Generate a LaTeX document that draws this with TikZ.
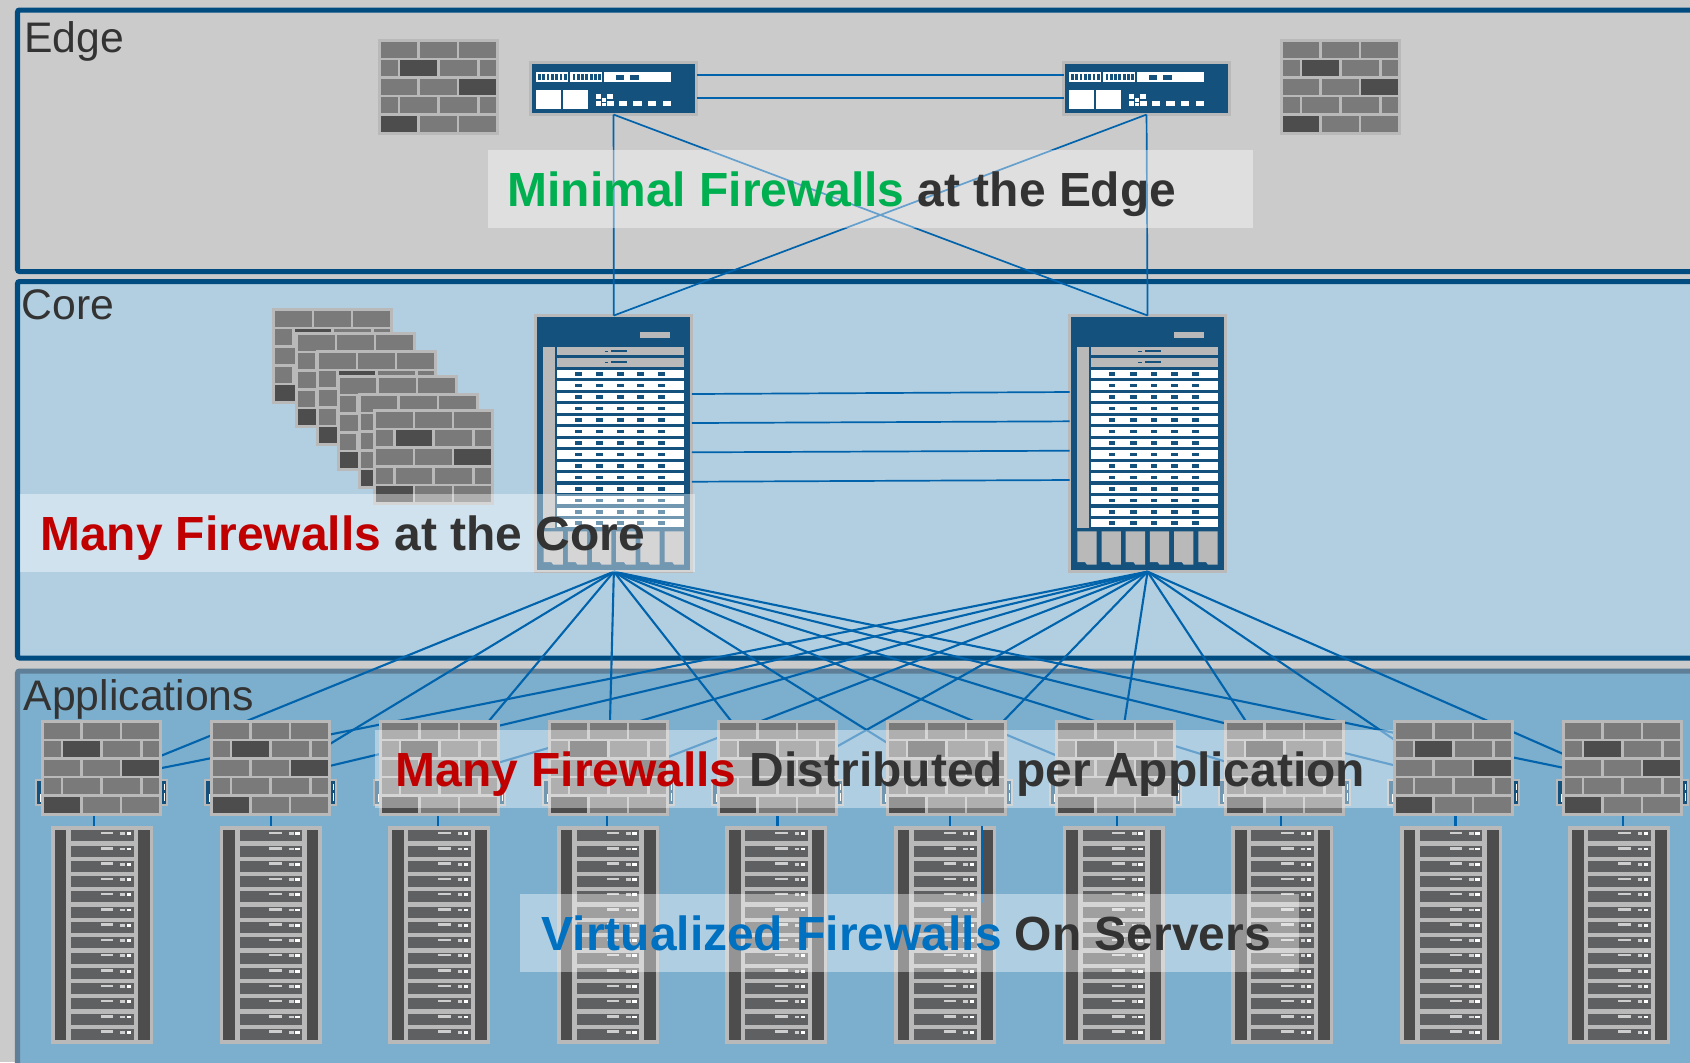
\documentclass[tikz,border=0pt]{standalone}
\usepackage{fontspec}
\setmainfont{Liberation Sans}
\usepackage{xcolor}
\usepackage{tikz}
\usetikzlibrary{positioning}
\definecolor{pagegray}{HTML}{CBCBCB}
\definecolor{coreblue}{HTML}{B2CFE1}
\definecolor{appblue}{HTML}{7CAECD}
\definecolor{bandnavy}{HTML}{004C80}
\definecolor{bandslate}{HTML}{5E7F97}
\definecolor{devnavy}{HTML}{14527D}
\definecolor{framegray}{HTML}{B9B9B9}
\definecolor{brickgray}{HTML}{7A7A7A}
\definecolor{brickdark}{HTML}{4D4D4E}
\definecolor{bladegray}{HTML}{5F6062}
\definecolor{linkblue}{HTML}{0063AC}
\definecolor{txtgray}{HTML}{333333}
\definecolor{mingreen}{HTML}{00B050}
\definecolor{manyred}{HTML}{C00000}
\definecolor{virtblue}{HTML}{0070C0}
\tikzset{
  devbox/.style={inner sep=0pt,outer sep=0pt,anchor=north west},
  firewallbox/.style={devbox,fill=framegray,minimum width=1.21cm,minimum height=0.96cm},
  rackbox/.style={devbox,fill=framegray,minimum width=1.02cm,minimum height=2.18cm},
  routerbox/.style={devbox,fill=devnavy,draw=framegray,line width=0.03cm,minimum width=1.66cm,minimum height=0.52cm},
  chassisbox/.style={devbox,fill=devnavy,draw=framegray,line width=0.03cm,minimum width=1.56cm,minimum height=2.56cm},
  hostbox/.style={inner sep=0pt,outer sep=0pt,fill=devnavy,draw=framegray,line width=0.02cm,minimum width=1.3cm,minimum height=0.25cm},
  link/.style={color=linkblue,line width=0.021cm},
  thinlink/.style={color=linkblue,line width=0.017cm},
  banner/.style={fill=white,fill opacity=0.4},
  title/.style={inner sep=0pt,anchor=base west,font=\fontsize{13.63pt}{16pt}\bfseries,text=txtgray},
  tier/.style={inner sep=0pt,anchor=base west,font=\fontsize{12.15pt}{14pt}\selectfont,text=txtgray},
  firewall/.pic={
    \foreach \t in {2.5,39.7,77}
      \foreach \a/\b in {3/39.3,42/79,81/118}
        \fill[brickgray] (\a,\t) rectangle (\b,\t+16);
    \foreach \t in {21,58.3}
      \foreach \a/\b in {3/19.7,22.3/59,62/99,102/118}
        \fill[brickgray] (\a,\t) rectangle (\b,\t+16);
    \fill[brickdark] (22.3,21) rectangle (59,37);
    \fill[brickdark] (81,39.7) rectangle (118,55.7);
    \fill[brickdark] (3,77) rectangle (39.3,93);
  },
  rack/.pic={
    \fill[brickdark] (3.7,3.7) rectangle (15.3,214);
    \fill[brickdark] (87,3.7) rectangle (98.7,214);
    \foreach \k in {0,...,13}{
      \fill[bladegray] (20,{4.3+15.28*\k}) rectangle (82.5,{15.3+15.28*\k});
      \fill[framegray!70!white] (49.7,{5.7+15.28*\k}) rectangle (62.3,{8.2+15.28*\k});
      \fill[framegray!70!white] (69.3,{6.2+15.28*\k}) rectangle (74,{9+15.28*\k});
      \fill[white] (75.5,{6.2+15.28*\k}) rectangle (80,{9+15.28*\k});
    }
  },
  router/.pic={
    \fill[white] (6.7,11) rectangle (39.3,20.7);
    \fill[white] (41.3,11) rectangle (73.3,20.7);
    \fill[white] (75.3,11) rectangle (142.3,20.7);
    \foreach \k in {0,...,6}{
      \fill[devnavy] ({9+4.3*\k},12.6) rectangle ({11.8+4.3*\k},19);
      \fill[devnavy] ({43.5+4.3*\k},12.6) rectangle ({46.3+4.3*\k},19);
    }
    \fill[devnavy] (86.7,13.7) rectangle (95.3,18.7);
    \fill[devnavy] (101.3,13.7) rectangle (110,18.7);
    \fill[white] (6.7,28.7) rectangle (31.7,48);
    \fill[white] (34,28.7) rectangle (58.7,48);
    \foreach \a/\t/\b/\e in {66.7/33/72/38,78/32.7/84/37.5,66.7/40/72/45,73/37/77/41,73/42/77/45,78/40/84.7/45}
      \fill[white] (\a,\t) rectangle (\b,\e);
    \foreach \a in {89.7,104.3,119,133.7}
      \fill[white] (\a,39.7) rectangle (\a+8.3,44.7);
  },
  chassis/.pic={
    \fill[framegray] (106,18.3) rectangle (136,24.3);
    \fill[framegray] (8.7,32.7) rectangle (20.7,213.7);
    \foreach \k in {0,1}{
      \fill[framegray] (22.7,{33+11.47*\k}) rectangle (149.7,{41.3+11.47*\k});
      \fill[devnavy] (70.3,{36.5+11.47*\k}) rectangle (74,{38+11.47*\k});
      \fill[devnavy] (76.7,{35.7+11.47*\k}) rectangle (92.7,{38+11.47*\k});
    }
    \foreach \k in {2,...,15}{
      \fill[white] (22.7,{33+11.47*\k}) rectangle (149.7,{41.3+11.47*\k});
      \foreach \m in {44,65.3,86,106.3,127.3}
        \fill[devnavy] (\m-3.3,{35.4+11.47*\k}) rectangle (\m+3.3,{38.9+11.47*\k});
    }
    \foreach \k in {0,...,5}
      \fill[framegray] ({9.3+24.2*\k},217.3) -- ({28.6+24.2*\k},217.3) -- ({28.6+24.2*\k},250.7)
        -- ({19+24.2*\k},250.7) -- ({17+24.2*\k},248) -- ({9.3+24.2*\k},248) -- cycle;
  },
  hostmarks/.pic={
    \fill[white] (3.5,14) rectangle (6,22);
    \fill[white] (127.5,4) rectangle (129,10);
    \fill[white] (127.5,13) rectangle (129,21);
  }
}
\begin{document}
\begin{tikzpicture}[x=0.01cm,y=-0.01cm]
\useasboundingbox (0,0) rectangle (1690,1062);
\clip (0,0) rectangle (1690,1062);
%%%%% Tiers %%%%%
\fill[pagegray] (0,0) rectangle (1690,1062);
\draw[draw=bandnavy,line width=0.05cm,rounded corners=0.02cm] (17.5,10) rectangle (1720,271.5);
\draw[draw=bandnavy,fill=coreblue,line width=0.05cm,rounded corners=0.02cm] (17.5,281.5) rectangle (1720,658);
\draw[draw=bandslate,fill=appblue,line width=0.05cm,rounded corners=0.02cm] (17.5,671) rectangle (1720,1090);
%%%%% Edge %%%%%
\node[firewallbox] (edgewallA) at (378,39) {};
\pic at (edgewallA.north west) {firewall};
\node[firewallbox] (edgewallB) at (1280,39) {};
\pic at (edgewallB.north west) {firewall};
\node[routerbox] (edgeA) at (530.5,62.5) {};
\pic at (529,61) {router};
\node[routerbox] (edgeB) at (1063.5,62.5) {};
\pic at (1062,61) {router};
\coordinate (edgeAtop) at (edgeA.east |- 0,75);
\coordinate (edgeAlow) at (edgeA.east |- 0,97.7);
\draw[thinlink] (edgeAtop) -- (edgeAtop -| edgeB.west);
\draw[thinlink] (edgeAlow) -- (edgeAlow -| edgeB.west);
%%%%% Core %%%%%
\foreach \i/\fx/\fy in {1/272.3/308.3,2/295.3/332.3,3/316.3/350.3,4/336.7/375.3,5/357.7/393.3,6/373.3/409.3}{
  \node[firewallbox] (corewall\i) at (\fx,\fy) {};
  \pic at (corewall\i.north west) {firewall};
}
\node[chassisbox] (coreA) at (535.8,315.5) {};
\pic at (534.3,314) {chassis};
\node[chassisbox] (coreB) at (1069.5,315.5) {};
\pic at (1068,314) {chassis};
\draw[thinlink] (edgeA.south) -- (coreA.north);
\draw[thinlink] (edgeA.south) -- (coreB.north);
\draw[thinlink] (edgeB.south) -- (coreA.north);
\draw[thinlink] (edgeB.south) -- (coreB.north);
\foreach \la/\lb in {394/392,423/421.3,452.3/450.7,481.7/480}
  \draw[thinlink] (coreA.east |- 0,\la) -- (coreB.west |- 0,\lb);
%%%%% Applications %%%%%
\foreach \i [evaluate=\i as \hx using 101.5+169*\i] in {0,...,9}{
  \node[hostbox] (host\i) at (\hx,792.5) {};
  \pic at (host\i.north west) {hostmarks};
  \draw[link] (coreA.south) -- (host\i.north);
  \draw[link] (coreB.south) -- (host\i.north);
}
\foreach \i/\sx [evaluate=\i as \fx using 41+169*\i, evaluate=\i as \rx using 51+168.6*\i] in {0/94.3,1/270.7,2/437.8,3/607,4/777.5,5/950,6/1116.6,7/1281,8/1455.5,9/1622.8}{
  \node[firewallbox] (wall\i) at (\fx,720) {};
  \pic at (wall\i.north west) {firewall};
  \node[rackbox] (rack\i) at (\rx,826) {};
  \pic at (rack\i.north west) {rack};
  \draw[link] (\sx,0 |- wall\i.south) -- (\sx,0 |- rack\i.north);
}
\coordinate (vlineend) at (982,903);
\draw[link] (vlineend |- rack5.north) -- (vlineend);
%%%%% Banners %%%%%
\fill[banner] (488,150) rectangle (1253,228);
\fill[banner] (19.5,494) rectangle (695,572);
\fill[banner] (375,730) rectangle (1393,808);
\fill[banner] (520,894) rectangle (1299,972);
\node[title] (edgetitle) at (507,206.7) {\textcolor{mingreen}{Minimal Firewalls} at the Edge};
\node[title] (coretitle) at (39.5,550) {\textcolor{manyred}{Many Firewalls} at the Core};
\node[title] (apptitle) at (395,786.7) {\textcolor{manyred}{Many Firewalls} Distributed per Application};
\node[title] (srvtitle) at (541,950.7) {\textcolor{virtblue}{Virtualized Firewalls} On Servers};
\node[tier] (edgelabel) at (23.5,52.7) {Edge};
\node[tier] (corelabel) at (21,319.3) {Core};
\node[tier] (applabel) at (23,710) {Applications};
\end{tikzpicture}
\end{document}
